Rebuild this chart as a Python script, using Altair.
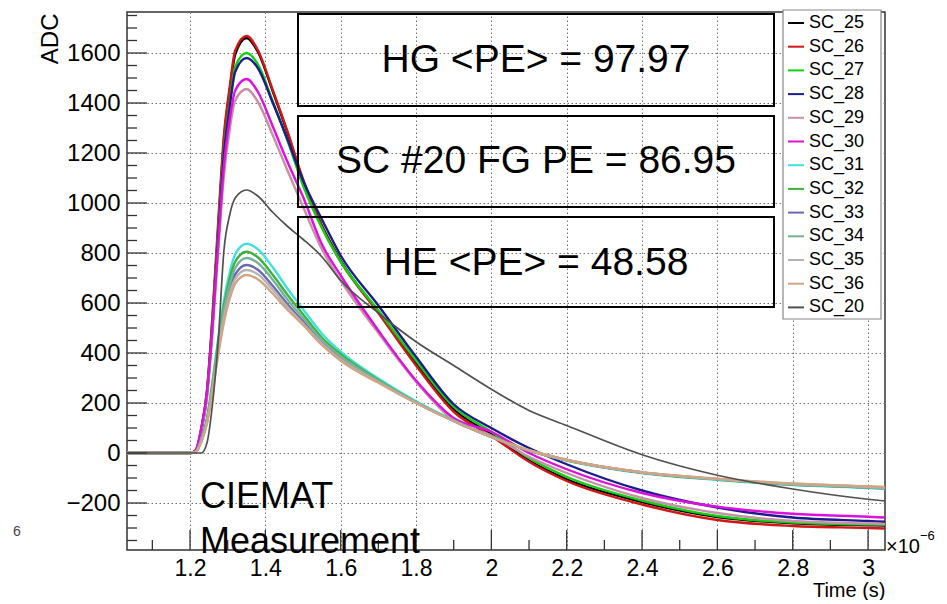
import altair as alt
import pandas as pd

# ---------------- data ----------------
time_us = [1.0327, 1.20, 1.215, 1.23, 1.245, 1.26, 1.275, 1.29, 1.305, 1.32, 1.35,
           1.38, 1.42, 1.46, 1.50, 1.55, 1.60, 1.70, 1.80, 1.90, 2.00, 2.10, 2.20,
           2.40, 2.60, 2.80, 3.00, 3.045]

series_names = ["SC_25", "SC_26", "SC_27", "SC_28", "SC_29", "SC_30", "SC_31",
                "SC_32", "SC_33", "SC_34", "SC_35", "SC_36", "SC_20"]
series_colors = ["#000000", "#d41515", "#10d010", "#1c1c8c", "#c890a8", "#dd10dd",
                 "#40e0e0", "#3cb43c", "#6a6ab4", "#78b098", "#b4b4b4", "#d0a484",
                 "#505050"]

sc_25 = [0, 0, 8, 95, 245, 540, 900, 1250, 1445, 1595, 1660, 1605, 1445, 1275, 1090, 910,
         770, 565, 360, 175, 75, -30, -105, -196, -256, -281, -289, -290]
sc_26 = [0, 0, 10, 100, 250, 560, 930, 1270, 1460, 1610, 1668, 1612, 1450, 1280, 1095, 905,
         765, 560, 350, 165, 68, -35, -112, -206, -268, -292, -300, -302]
sc_27 = [0, 0, 8, 92, 240, 530, 880, 1210, 1395, 1545, 1600, 1555, 1405, 1245, 1070, 900,
         765, 570, 370, 185, 85, -20, -95, -190, -252, -278, -286, -287]
sc_28 = [0, 0, 6, 85, 230, 515, 865, 1195, 1380, 1525, 1580, 1540, 1400, 1250, 1090, 935,
         790, 590, 385, 195, 100, 20, -45, -150, -218, -258, -272, -275]
sc_29 = [0, 0, 10, 90, 225, 490, 810, 1110, 1290, 1410, 1456, 1405, 1270, 1125, 985, 815,
         690, 480, 285, 130, 70, -15, -80, -180, -240, -272, -282, -284]
sc_30 = [0, 0, 12, 100, 240, 510, 840, 1150, 1330, 1450, 1496, 1445, 1305, 1160, 1025, 835,
         710, 490, 290, 140, 85, 0, -65, -160, -215, -243, -255, -258]
sc_31 = [0, 0, 5, 55, 140, 290, 460, 610, 720, 795, 837, 815, 742, 655, 575, 478,
         405, 298, 207, 131, 65, 10, -30, -80, -108, -128, -140, -143]
sc_32 = [0, 0, 5, 52, 135, 280, 445, 590, 695, 765, 805, 783, 712, 630, 555, 462,
         395, 292, 203, 129, 64, 10, -29, -79, -106, -126, -138, -141]
sc_33 = [0, 0, 4, 48, 125, 262, 415, 552, 650, 715, 752, 733, 668, 593, 527, 443,
         380, 285, 201, 128, 63, 10, -28, -78, -105, -125, -137, -140]
sc_34 = [0, 0, 5, 50, 130, 270, 430, 572, 672, 740, 780, 760, 692, 611, 540, 452,
         387, 289, 202, 128, 64, 10, -28, -78, -105, -126, -138, -141]
sc_35 = [0, 0, 4, 46, 122, 255, 405, 538, 633, 697, 732, 715, 653, 582, 518, 438,
         374, 283, 201, 128, 64, 11, -28, -77, -104, -123, -135, -138]
sc_36 = [0, 0, 4, 45, 118, 248, 395, 523, 616, 678, 712, 695, 637, 571, 512, 432,
         369, 281, 200, 128, 64, 11, -28, -77, -103, -122, -133, -136]
sc_20 = [0, 0, 0, 0, 40, 200, 450, 810, 950, 1020, 1052, 1028, 962, 905, 855, 785,
         690, 560, 445, 350, 255, 170, 110, -7, -89, -144, -185, -192]

series_values = [sc_25, sc_26, sc_27, sc_28, sc_29, sc_30, sc_31, sc_32, sc_33,
                 sc_34, sc_35, sc_36, sc_20]

x_major_ticks = [1.2, 1.4, 1.6, 1.8, 2.0, 2.2, 2.4, 2.6, 2.8, 3.0]
x_minor_ticks = [1.1, 1.3, 1.5, 1.7, 1.9, 2.1, 2.3, 2.5, 2.7, 2.9]
y_major_ticks = [-200, 0, 200, 400, 600, 800, 1000, 1200, 1400, 1600]
y_minor_ticks = [-350, -300, -250, -150, -100, -50, 50, 100, 150, 250, 300, 350,
                 450, 500, 550, 650, 700, 750, 850, 900, 950, 1050, 1100, 1150,
                 1250, 1300, 1350, 1450, 1500, 1550, 1650, 1700, 1750]

box_labels = ["HG <PE> = 97.97", "SC #20 FG PE = 86.95", "HE <PE> = 48.58"]
note_lines = ["CIEMAT", "Measurement"]

# ---------------- build tables ----------------
rows = []
for name, vals in zip(series_names, series_values):
    for i, (t, v) in enumerate(zip(time_us, vals)):
        rows.append({"series": name, "t": t, "adc": v, "idx": i})
df = pd.DataFrame(rows)

FONT = "Liberation Sans"
W, H = 758, 538
x_scale = alt.Scale(domain=[1.0327, 3.045], nice=False, zero=False)
y_scale = alt.Scale(domain=[-388, 1764], nice=False, zero=False)
one = pd.DataFrame({"k": [0]})

x_axis = alt.Axis(values=x_major_ticks, format="~g", title="Time (s)",
                  ticks=False, domain=False, grid=True,
                  labelFontSize=23, labelPadding=7, labelFlush=False,
                  titleFontSize=20, titleFontWeight="normal",
                  titleAnchor="end", titleAlign="right",
                  titleBaseline="alphabetic", titleX=W, titleY=46)
y_axis = alt.Axis(values=y_major_ticks, format="d", title="ADC",
                  ticks=False, domain=False, grid=True,
                  labelFontSize=24, labelPadding=7, labelFlush=False,
                  titleFontSize=24, titleFontWeight="normal",
                  titleAngle=270, titleAlign="right",
                  titleBaseline="alphabetic", titleX=-70, titleY=1)

lines = alt.Chart(df).mark_line(interpolate="monotone").encode(
    x=alt.X("t:Q", scale=x_scale, axis=x_axis),
    y=alt.Y("adc:Q", scale=y_scale, axis=y_axis),
    color=alt.Color("series:N", sort=series_names,
                    scale=alt.Scale(domain=series_names, range=series_colors),
                    legend=alt.Legend(orient="none", legendX=656, legendY=-2, title=None,
                                      padding=4, labelFontSize=18, labelColor="black",
                                      labelFont=FONT, labelOffset=4,
                                      symbolType="stroke", symbolSize=256,
                                      symbolStrokeWidth=2, rowPadding=5.7)),
    strokeWidth=alt.condition("datum.series == 'SC_20'", alt.value(1.7), alt.value(2.4)),
    order="idx:Q",
)

tick_color = "#333333"
xmaj = alt.Chart(pd.DataFrame({"t": x_major_ticks})).mark_rule(color=tick_color, strokeWidth=1.3).encode(
    x=alt.X("t:Q", scale=x_scale, axis=x_axis), y=alt.value(H), y2=alt.value(H - 20))
xmin = alt.Chart(pd.DataFrame({"t": x_minor_ticks})).mark_rule(color=tick_color, strokeWidth=1.3).encode(
    x=alt.X("t:Q", scale=x_scale, axis=x_axis), y=alt.value(H), y2=alt.value(H - 10))
ymaj = alt.Chart(pd.DataFrame({"adc": y_major_ticks})).mark_rule(color=tick_color, strokeWidth=1.3).encode(
    y=alt.Y("adc:Q", scale=y_scale, axis=y_axis), x=alt.value(0), x2=alt.value(20))
ymin = alt.Chart(pd.DataFrame({"adc": y_minor_ticks})).mark_rule(color=tick_color, strokeWidth=1.3).encode(
    y=alt.Y("adc:Q", scale=y_scale, axis=y_axis), x=alt.value(0), x2=alt.value(10))

# legend frame (behind the legend entries)
legend_frame = alt.Chart(one).mark_rect(fill="white", stroke="#888888", strokeWidth=1.2).encode(
    x=alt.value(656), x2=alt.value(754), y=alt.value(-2), y2=alt.value(307))

layers = [lines, xmaj, xmin, ymaj, ymin, legend_frame]

# text boxes
box_tops = [2, 104, 205]
box_bottoms = [94, 195, 295]
text_base = [60, 161, 263]
for lab, t0, t1, tb in zip(box_labels, box_tops, box_bottoms, text_base):
    layers.append(alt.Chart(one).mark_rect(fillOpacity=0, stroke="black", strokeWidth=2).encode(
        x=alt.value(171), x2=alt.value(647), y=alt.value(t0), y2=alt.value(t1)))
    layers.append(alt.Chart(one).mark_text(text=lab, font=FONT, fontSize=39, color="black",
                                           align="center", baseline="alphabetic").encode(
        x=alt.value(409), y=alt.value(tb)))

# measurement note
for lab, yb in zip(note_lines, [496, 541]):
    layers.append(alt.Chart(one).mark_text(text=lab, font=FONT, fontSize=36, color="black",
                                           align="left", baseline="alphabetic").encode(
        x=alt.value(73), y=alt.value(yb)))

# exponent of the time axis
layers.append(alt.Chart(one).mark_text(text="×10", font=FONT, fontSize=20, color="black",
                                       align="left", baseline="alphabetic").encode(
    x=alt.value(759), y=alt.value(541)))
layers.append(alt.Chart(one).mark_text(text="−6", font=FONT, fontSize=13, color="black",
                                       align="left", baseline="alphabetic").encode(
    x=alt.value(793), y=alt.value(528)))
layers.append(alt.Chart(one).mark_text(text="6", font=FONT, fontSize=14, color="#444444",
                                       align="center", baseline="middle").encode(
    x=alt.value(-110), y=alt.value(520)))

chart = alt.layer(*layers).properties(
    width=W, height=H, autosize="none",
    padding={"left": 119, "top": 4, "right": 54, "bottom": 50},
    background="white",
).configure_view(stroke="#333333", strokeWidth=1.5).configure_axis(
    labelFont=FONT, titleFont=FONT, labelColor="black", titleColor="black",
    gridColor="#777777", gridDash=[1.5, 2.5], gridWidth=1, gridOpacity=1,
).configure_text(font=FONT)

chart.save("out.html", embed_options={"renderer": "svg", "actions": False})
